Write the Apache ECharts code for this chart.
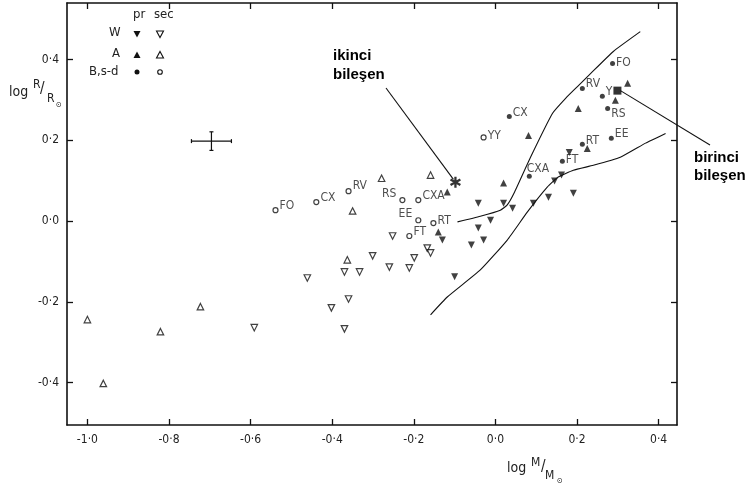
<!DOCTYPE html>
<html><head><meta charset="utf-8">
<script src="https://cdn.jsdelivr.net/npm/echarts@6/dist/echarts.min.js"></script>
<style>html,body{margin:0;padding:0;background:#fff}#c{width:749px;height:486px}</style>
</head><body><div id="c"></div>
<script>
// ---------------- data ----------------
const xTicks = [-1.0, -0.8, -0.6, -0.4, -0.2, 0.0, 0.2, 0.4];
const yTicks = [-0.4, -0.2, 0.0, 0.2, 0.4];

// W type: primaries (filled down triangles), secondaries (open down triangles)
const wPrimary = [
  [-0.042, 0.044], [0.020, 0.044], [0.042, 0.032], [-0.012, 0.002], [-0.042, -0.017],
  [-0.029, -0.047], [-0.059, -0.059], [-0.100, -0.138], [-0.130, -0.047], [0.093, 0.044],
  [0.130, 0.059], [0.145, 0.099], [0.162, 0.114], [0.191, 0.069], [0.181, 0.170]
];
const wSecondary = [
  [-0.591, -0.264], [-0.461, -0.141], [-0.402, -0.215], [-0.370, -0.126], [-0.333, -0.126],
  [-0.360, -0.193], [-0.370, -0.267], [-0.301, -0.086], [-0.260, -0.114], [-0.252, -0.037],
  [-0.199, -0.091], [-0.211, -0.116], [-0.167, -0.067], [-0.159, -0.079]
];
// A type
const aPrimary = [
  [-0.118, 0.072], [-0.140, -0.027], [0.020, 0.094], [0.081, 0.212], [0.203, 0.279],
  [0.324, 0.341], [0.294, 0.299], [0.225, 0.180]
];
const aSecondary = [
  [-1.000, -0.244], [-0.961, -0.402], [-0.821, -0.274], [-0.723, -0.212], [-0.350, 0.025],
  [-0.363, -0.096], [-0.279, 0.106], [-0.159, 0.114]
];
// B, s-d type (labelled systems)
const bPrimary = [
  [0.034, 0.259, 'CX'], [0.213, 0.328, 'RV'], [0.262, 0.309, 'Y'], [0.287, 0.390, 'FO'],
  [0.275, 0.279, 'RS'], [0.284, 0.205, 'EE'], [0.213, 0.190, 'RT'], [0.164, 0.148, 'FT'],
  [0.083, 0.111, 'CXA']
];
const bSecondary = [
  [-0.539, 0.027, 'FO'], [-0.439, 0.047, 'CX'], [-0.360, 0.074, 'RV'], [-0.228, 0.052, 'RS'],
  [-0.189, 0.052, 'CXA'], [-0.189, 0.002, 'EE'], [-0.211, -0.037, 'FT'], [-0.152, -0.005, 'RT'],
  [-0.029, 0.207, 'YY']
];
// highlighted components
const birinci = [[0.299, 0.323]];
const ikinci = [[-0.098, 0.096]];
// theoretical curves
const upperCurve = [
  [-0.093, -0.002], [-0.037, 0.012], [0.012, 0.027], [0.029, 0.040], [0.047, 0.072],
  [0.086, 0.158], [0.140, 0.267], [0.172, 0.304], [0.201, 0.333], [0.233, 0.365],
  [0.289, 0.420], [0.355, 0.469]
];
const lowerCurve = [
  [-0.159, -0.232], [-0.118, -0.188], [-0.037, -0.121], [0.029, -0.047], [0.078, 0.022],
  [0.127, 0.084], [0.154, 0.109], [0.191, 0.126], [0.240, 0.138], [0.306, 0.158],
  [0.368, 0.193], [0.417, 0.217]
];
// typical error bar: [x, y, xErr, yErr]
const errorBar = [[-0.696, 0.198, 0.049, 0.023]];

// ---------------- styling / layout (not data) ----------------
const FONT = '"DejaVu Sans Condensed","DejaVu Sans",sans-serif';
const INK = '#111';
const priLabelPos = {
  CX: ['right', [-1, -4]], RV: ['right', [-1, -5]], Y: ['right', [-1, -4]], FO: ['right', [-1, -1]],
  RS: ['right', [-1, 5]], EE: ['right', [-1, -4]], RT: ['right', [-1, -3]], FT: ['right', [-1, -1]],
  CXA: ['right', [-7, -7]]
};
const secLabelPos = {
  FO: ['right', [-1, -4]], CX: ['right', [-1, -4]], RV: ['right', [-1, -5]], RS: ['left', [-1, -6]],
  CXA: ['right', [-1, -4]], EE: ['left', [-1, -6]], FT: ['right', [-1, -4]], RT: ['right', [-1, -2]],
  YY: ['right', [-1, -2]]
};
const fmt = v => (v < 0 ? '-' : '') + Math.abs(v).toFixed(1).replace('.', '·');
const labelStyle = { color: '#222', fontSize: 12, fontFamily: FONT };

function labelled(arr, pos) {
  return arr.map(d => ({
    value: [d[0], d[1]], name: d[2],
    label: { show: true, formatter: d[2], position: pos[d[2]][0], offset: pos[d[2]][1], distance: 2, ...labelStyle }
  }));
}

const hollow = { color: '#fff', borderColor: INK, borderWidth: 1.2 };
const filled = { color: INK, borderWidth: 0 };
const asteriskPath = 'path://M-1 -5L1 -5L1 5L-1 5Z M3.83 3.366L-4.83 -1.634L-3.83 -3.366L4.83 1.634Z M-4.83 1.634L3.83 -3.366L4.83 -1.634L-3.83 3.366Z';

function xAxisDef(pos, showLabel) {
  return {
    type: 'value', position: pos, min: -1.05, max: 0.445,
    axisLine: { show: true, onZero: false, lineStyle: { color: INK, width: 1.6 } },
    axisTick: { show: true, inside: true, length: 6, customValues: xTicks, lineStyle: { color: INK, width: 1.3 } },
    axisLabel: { show: showLabel, customValues: xTicks, formatter: fmt, margin: 9, color: '#222', fontSize: 12, fontFamily: FONT },
    splitLine: { show: false }
  };
}
function yAxisDef(pos, showLabel) {
  return {
    type: 'value', position: pos, min: -0.505, max: 0.54,
    axisLine: { show: true, onZero: false, lineStyle: { color: INK, width: 1.6 } },
    axisTick: { show: true, inside: true, length: 6, customValues: yTicks, lineStyle: { color: INK, width: 1.3 } },
    axisLabel: { show: showLabel, customValues: yTicks, formatter: fmt, margin: 8, color: '#222', fontSize: 12, fontFamily: FONT },
    splitLine: { show: false }
  };
}

const chart = echarts.init(document.getElementById('c'));
chart.setOption({
  animation: false,
  backgroundColor: '#fff',
  grid: { left: 67, right: 72, top: 3, bottom: 61 },
  xAxis: [xAxisDef('bottom', true), xAxisDef('top', false)],
  yAxis: [yAxisDef('left', true), yAxisDef('right', false)],
  series: [
    { type: 'line', data: upperCurve, smooth: 0.15, showSymbol: false, lineStyle: { color: INK, width: 1.1 }, z: 1 },
    { type: 'line', data: lowerCurve, smooth: 0.15, showSymbol: false, lineStyle: { color: INK, width: 1.1 }, z: 1 },
    { type: 'scatter', data: wPrimary, symbol: 'triangle', symbolRotate: 180, symbolSize: 7, itemStyle: filled, z: 3 },
    { type: 'scatter', data: wSecondary, symbol: 'triangle', symbolRotate: 180, symbolSize: 6.5, itemStyle: hollow, z: 3 },
    { type: 'scatter', data: aPrimary, symbol: 'triangle', symbolSize: 7, itemStyle: filled, z: 3 },
    { type: 'scatter', data: aSecondary, symbol: 'triangle', symbolSize: 6.5, itemStyle: hollow, z: 3 },
    { type: 'scatter', data: labelled(bPrimary, priLabelPos), symbol: 'circle', symbolSize: 5, itemStyle: filled, z: 3 },
    { type: 'scatter', data: labelled(bSecondary, secLabelPos), symbol: 'circle', symbolSize: 5, itemStyle: hollow, z: 3 },
    { type: 'scatter', data: birinci, symbol: 'rect', symbolSize: 8, itemStyle: { color: '#000' }, z: 4 },
    { type: 'scatter', data: ikinci, symbol: asteriskPath, symbolSize: 11, itemStyle: { color: '#000' }, z: 4 },
    {
      type: 'custom', data: errorBar, z: 4,
      renderItem: (params, api) => {
        const x = api.value(0), y = api.value(1), ex = api.value(2), ey = api.value(3);
        const l = api.coord([x - ex, y]), r = api.coord([x + ex, y]);
        const t = api.coord([x, y + ey]), b = api.coord([x, y - ey]);
        const st = { stroke: INK, lineWidth: 1.2 };
        const ln = (x1, y1, x2, y2) => ({ type: 'line', shape: { x1, y1, x2, y2 }, style: st });
        return { type: 'group', children: [
          ln(l[0], l[1], r[0], r[1]), ln(t[0], t[1], b[0], b[1]),
          ln(l[0], l[1] - 2, l[0], l[1] + 2), ln(r[0], r[1] - 2, r[0], r[1] + 2),
          ln(t[0] - 2, t[1], t[0] + 2, t[1]), ln(b[0] - 2, b[1], b[0] + 2, b[1])
        ] };
      }
    }
  ]
});

// ---------------- annotations / legend (graphic) ----------------
const pB = chart.convertToPixel({ xAxisIndex: 0, yAxisIndex: 0 }, birinci[0]);
const pI = chart.convertToPixel({ xAxisIndex: 0, yAxisIndex: 0 }, ikinci[0]);
const txt = (left, top, text, extra) => ({ type: 'text', left, top, style: Object.assign({ text, fill: '#222', font: '13px ' + FONT }, extra || {}) });
const tri = (cx, cy, down, fill) => ({
  type: 'polygon',
  shape: { points: down ? [[cx - 3.5, cy - 3], [cx + 3.5, cy - 3], [cx, cy + 3.5]] : [[cx - 3.5, cy + 3], [cx + 3.5, cy + 3], [cx, cy - 3.5]] },
  style: fill ? { fill: INK } : { fill: '#fff', stroke: INK, lineWidth: 1.1 }
});
const bold = { font: 'bold 15px "Liberation Sans", Arial, sans-serif', fill: '#000' };
chart.setOption({
  graphic: [
    // legend
    txt(133, 8, 'pr'), txt(154, 8, 'sec'),
    txt(109, 26, 'W'), tri(137, 34, true, true), tri(160, 34, true, false),
    txt(112, 47, 'A'), tri(137, 55, false, true), tri(160, 55, false, false),
    txt(89, 65, 'B,s-d'),
    { type: 'circle', shape: { cx: 137, cy: 72, r: 2.5 }, style: { fill: INK } },
    { type: 'circle', shape: { cx: 160, cy: 72, r: 2.3 }, style: { fill: '#fff', stroke: INK, lineWidth: 1.1 } },
    // y axis title: log R/R⊙
    txt(9, 85, 'log', { font: '14px ' + FONT }),
    txt(33, 79, 'R', { font: '12px ' + FONT }),
    txt(40, 82, '/', { font: '15px ' + FONT }),
    txt(47, 93, 'R', { font: '12px ' + FONT }),
    txt(56, 101, '⊙', { font: '8px ' + FONT }),
    // x axis title: log M/M⊙
    txt(507, 461, 'log', { font: '14px ' + FONT }),
    txt(531, 457, 'M', { font: '12px ' + FONT }),
    txt(541, 460, '/', { font: '15px ' + FONT }),
    txt(545, 470, 'M', { font: '12px ' + FONT }),
    txt(557, 477, '⊙', { font: '8px ' + FONT }),
    // ikinci bileşen
    txt(333, 48, 'ikinci', bold), txt(333, 67, 'bileşen', bold),
    { type: 'line', shape: { x1: 386, y1: 88, x2: pI[0] - 2, y2: pI[1] - 3 }, style: { stroke: INK, lineWidth: 1.1 } },
    // birinci bileşen
    txt(694, 150, 'birinci', bold), txt(694, 168, 'bileşen', bold),
    { type: 'line', shape: { x1: pB[0] + 3, y1: pB[1], x2: 710, y2: 145 }, style: { stroke: INK, lineWidth: 1.1 } }
  ]
});
</script>
</body></html>
